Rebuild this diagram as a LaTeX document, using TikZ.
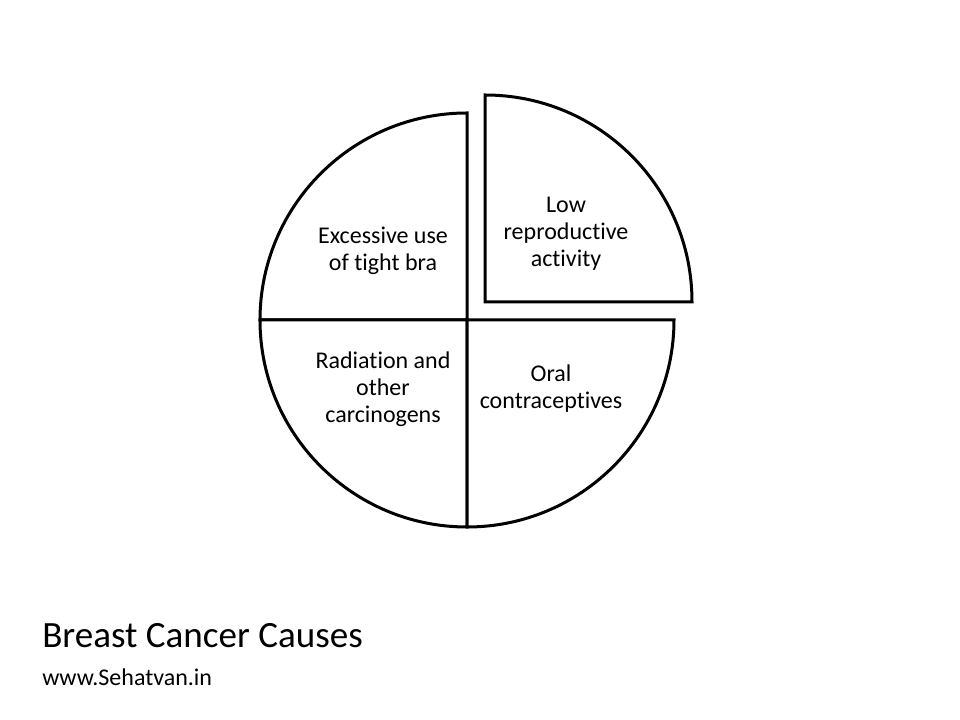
\documentclass[tikz,border=0pt]{standalone}
\usepackage{fontspec}
\setmainfont[Ligatures=NoCommon]{Carlito}
\begin{document}
\begin{tikzpicture}[x=0.75pt,y=0.75pt,
  wedge/.style={draw=black,line width=2.25pt,line join=miter,fill=white},
  lbl/.style={align=center,font=\fontsize{18}{20.3}\selectfont,inner sep=0pt}]
\useasboundingbox (0,0) rectangle (960,720);
\fill[white] (0,0) rectangle (960,720);
% wedges (centre 467,400 in y-up coordinates; r = 207)
\draw[wedge] (467,400) -- (467,607) arc[start angle=90,end angle=180,radius=207] -- cycle;
\draw[wedge] (467,400) -- (260,400) arc[start angle=180,end angle=270,radius=207] -- cycle;
\draw[wedge] (467,400) -- (467,193) arc[start angle=270,end angle=360,radius=207] -- cycle;
\draw[wedge] (485,418) -- (692,418) arc[start angle=0,end angle=90,radius=207] -- cycle;
% labels
\node[lbl] (tl) at (383,469) {Excessive use\\of tight bra};
\node[lbl] (tr) at (566,486) {Low\\reproductive\\activity};
\node[lbl] (bl) at (383,331) {Radiation and\\other\\carcinogens};
\node[lbl] (br) at (551,331) {Oral\\contraceptives};
\node[anchor=base west,inner sep=0pt,font=\fontsize{27.8}{30}\selectfont] (title) at (42,72) {Breast Cancer Causes};
\node[anchor=base west,inner sep=0pt,font=\fontsize{18}{20}\selectfont] (url) at (42,34) {www.Sehatvan.in};
\end{tikzpicture}
\end{document}
